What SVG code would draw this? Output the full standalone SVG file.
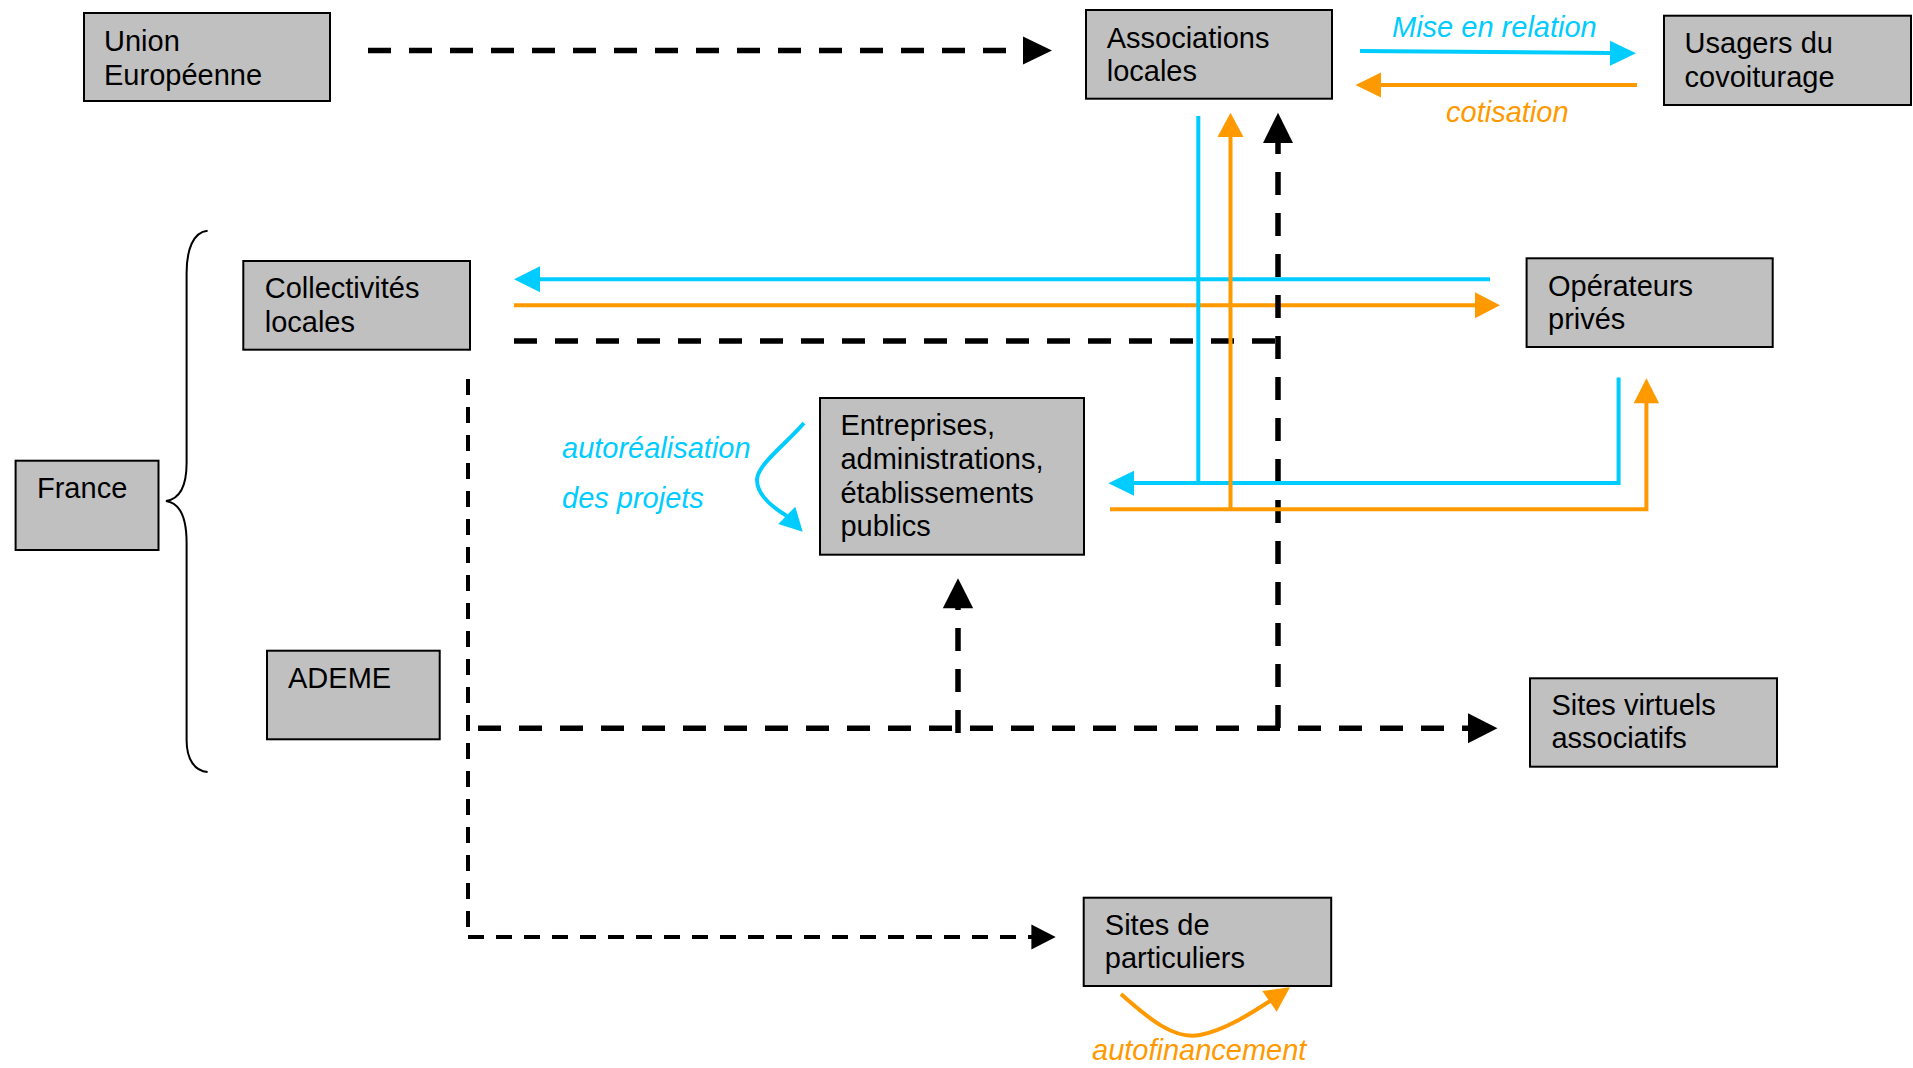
<svg xmlns="http://www.w3.org/2000/svg" width="1913" height="1068" viewBox="0 0 1913 1068">
<style>
.box{fill:#C0C0C0;stroke:#000;stroke-width:2}
.t{font-family:"Liberation Sans",Arial,sans-serif;font-size:29px;fill:#000}
.lb{font-family:"Liberation Sans",Arial,sans-serif;font-size:29px;font-style:italic}
.blue{fill:#00CCFF}
.orange{fill:#FF9900}
.dk{fill:none;stroke:#000;stroke-width:5.5;stroke-dasharray:23 18}
.dt{fill:none;stroke:#000;stroke-width:4;stroke-dasharray:16 12}
.bl{fill:none;stroke:#00CCFF;stroke-width:4}
.or{fill:none;stroke:#FF9900;stroke-width:4}
.ahk{fill:#000}
.ahb{fill:#00CCFF}
.aho{fill:#FF9900}
</style>
<rect width="1913" height="1068" fill="#fff"/>

<g id="connectors">
  <!-- Union -> Associations -->
  <line class="dk" x1="368" y1="50.5" x2="1024" y2="50.5"/>
  <polygon class="ahk" points="1052,50.5 1023,36.5 1023,64.5"/>
  <!-- Mise en relation -->
  <line class="bl" x1="1360" y1="51" x2="1612" y2="53"/>
  <polygon class="ahb" points="1636,53.3 1610,40.8 1610,65.8"/>
  <!-- cotisation -->
  <line class="or" x1="1637" y1="85" x2="1378" y2="85"/>
  <polygon class="aho" points="1355.5,85 1381,72.5 1381,97.5"/>
  <!-- Operateurs -> Collectivites (blue) -->
  <line class="bl" x1="1490" y1="279.3" x2="538" y2="279.3"/>
  <polygon class="ahb" points="514,279.3 540,266.3 540,292.3"/>
  <!-- Collectivites -> Operateurs (orange) -->
  <line class="or" x1="514" y1="305.3" x2="1477" y2="305.3"/>
  <polygon class="aho" points="1500,305.3 1475,292.3 1475,318.3"/>
  <!-- Collectivites dashed to vertical -->
  <line class="dk" x1="514" y1="341" x2="1278" y2="341"/>
  <!-- Vertical dashed to Associations -->
  <line class="dk" x1="1278" y1="728" x2="1278" y2="142"/>
  <polygon class="ahk" points="1278,112.7 1263,143 1293,143"/>
  <!-- Associations blue vertical down to Entreprises -->
  <polyline class="bl" points="1198.3,116 1198.3,483"/>
  <!-- Operateurs blue down and left to Entreprises -->
  <polyline class="bl" points="1618.6,377.5 1618.6,483 1132,483"/>
  <polygon class="ahb" points="1108.4,483.3 1134,470.8 1134,495.8"/>
  <!-- Entreprises orange to Operateurs -->
  <polyline class="or" points="1110,509.3 1646.4,509.3 1646.4,401"/>
  <polygon class="aho" points="1646.4,378.3 1633.7,403.3 1659.1,403.3"/>
  <!-- Entreprises orange to Associations -->
  <polyline class="or" points="1230.5,509.3 1230.5,135"/>
  <polygon class="aho" points="1230.5,112.7 1217.5,137 1243.5,137"/>
  <!-- Collectivites vertical thin dashed -->
  <line class="dt" x1="468" y1="379" x2="468" y2="939"/>
  <!-- ADEME horizontal dashed to Sites virtuels -->
  <line class="dk" x1="478" y1="728.3" x2="1469" y2="728.3"/>
  <polygon class="ahk" points="1497.5,728.3 1468,713.3 1468,743.3"/>
  <!-- dashed up to Entreprises -->
  <line class="dk" x1="958" y1="733" x2="958" y2="607"/>
  <polygon class="ahk" points="958,578.3 942.8,608.3 973.2,608.3"/>
  <!-- thin dashed to Sites de particuliers -->
  <line class="dt" x1="468" y1="937" x2="1032" y2="937"/>
  <polygon class="ahk" points="1055.7,937 1031.4,924.5 1031.4,949.5"/>
  <!-- autorealisation curve -->
  <path class="bl" d="M804,423 C785,445 757,465 757,480 C757,495 772,507 787,516"/>
  <polygon class="ahb" points="802.7,531.7 778.3,524 795.3,506.7"/>
  <!-- autofinancement curve -->
  <path class="or" d="M1121,994 C1150,1020 1175,1040 1200,1035 C1225,1030 1250,1014 1270,1001"/>
  <polygon class="aho" points="1290,987.3 1262.3,991 1276.7,1011.7"/>
  <!-- France bracket -->
  <path d="M207.6,230.7 C193,232 186.6,250 186.6,273 L186.6,463 C186.6,485 180,499 166,501 C180,503 186.6,517 186.6,543 L186.6,740 C186.6,760 195,771 207.6,772" fill="none" stroke="#000" stroke-width="2"/>
</g>

<g id="labels">
  <text class="lb blue" x="1392" y="36.7">Mise en relation</text>
  <text class="lb orange" x="1446" y="121.7">cotisation</text>
  <text class="lb blue" x="562" y="457.5">autoréalisation</text>
  <text class="lb blue" x="562" y="508">des projets</text>
  <text class="lb orange" x="1092" y="1060">autofinancement</text>
</g>

<g id="node-union">
  <rect class="box" x="84" y="13" width="246" height="88"/>
  <text class="t" x="104" y="50.7">Union</text>
  <text class="t" x="104" y="85">Européenne</text>
</g>
<g id="node-associations">
  <rect class="box" x="1086" y="10" width="246" height="88.7"/>
  <text class="t" x="1106.7" y="47.7">Associations</text>
  <text class="t" x="1106.7" y="81">locales</text>
</g>
<g id="node-usagers">
  <rect class="box" x="1664" y="15.7" width="247" height="89.3"/>
  <text class="t" x="1684.6" y="53.3">Usagers du</text>
  <text class="t" x="1684.6" y="87.3">covoiturage</text>
</g>
<g id="node-collectivites">
  <rect class="box" x="243.3" y="261" width="226.7" height="88.7"/>
  <text class="t" x="264.7" y="298">Collectivités</text>
  <text class="t" x="264.7" y="332">locales</text>
</g>
<g id="node-operateurs">
  <rect class="box" x="1526.6" y="258.3" width="246.1" height="88.7"/>
  <text class="t" x="1548" y="295.7">Opérateurs</text>
  <text class="t" x="1548" y="329">privés</text>
</g>
<g id="node-france">
  <rect class="box" x="15.6" y="460.7" width="142.9" height="89.3"/>
  <text class="t" x="37" y="498">France</text>
</g>
<g id="node-entreprises">
  <rect class="box" x="820" y="398" width="264" height="156.7"/>
  <text class="t" x="840.4" y="435">Entreprises,</text>
  <text class="t" x="840.4" y="469.3">administrations,</text>
  <text class="t" x="840.4" y="502.7">établissements</text>
  <text class="t" x="840.4" y="536">publics</text>
</g>
<g id="node-ademe">
  <rect class="box" x="267" y="650.7" width="172.7" height="88.6"/>
  <text class="t" x="288" y="688">ADEME</text>
</g>
<g id="node-sites-virtuels">
  <rect class="box" x="1530" y="678.3" width="247" height="88.4"/>
  <text class="t" x="1551.4" y="715">Sites virtuels</text>
  <text class="t" x="1551.4" y="748.3">associatifs</text>
</g>
<g id="node-sites-particuliers">
  <rect class="box" x="1083.7" y="897.7" width="247.5" height="88.3"/>
  <text class="t" x="1104.8" y="935">Sites de</text>
  <text class="t" x="1104.8" y="968.3">particuliers</text>
</g>
</svg>
